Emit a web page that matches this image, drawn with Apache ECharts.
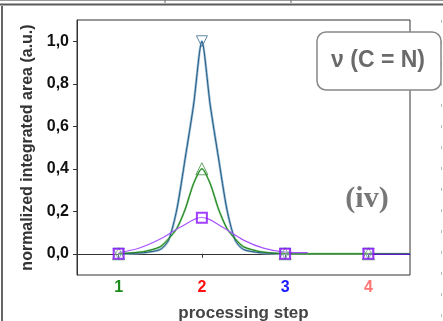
<!DOCTYPE html>
<html><head><meta charset="utf-8">
<script src="https://cdn.jsdelivr.net/npm/echarts@6/dist/echarts.min.js"></script>
<style>html,body{margin:0;padding:0;background:#fff;}#c{width:443px;height:321px;}</style>
</head><body><div id="c"></div>
<script>
// step ticks
const stepTicks = [1, 2, 3, 4];
const yTicks = [0, 0.2, 0.4, 0.6, 0.8, 1.0];
// fitted curve (blue)
const blueX = [1, 1.3, 1.5, 1.6, 1.7, 1.8, 1.9, 2.0, 2.1, 2.2, 2.3, 2.4, 2.5, 2.7, 3.0];
const blueY = [0, 0.005, 0.02, 0.064, 0.21, 0.45, 0.70, 1.0, 0.70, 0.45, 0.21, 0.064, 0.02, 0.005, 0];
// fitted curve (green)
const greenX = [1, 1.3, 1.5, 1.6, 1.7, 1.8, 1.9, 2.0, 2.1, 2.2, 2.3, 2.4, 2.5, 2.7, 3.0, 4.0, 4.5];
const greenY = [0, 0.01, 0.033, 0.07, 0.12, 0.21, 0.33, 0.40, 0.33, 0.21, 0.12, 0.07, 0.033, 0.01, 0, 0, 0];
// fitted curve (purple)
const purpleX = [1, 1.25, 1.5, 1.75, 2.0, 2.25, 2.5, 2.75, 3.0, 3.27];
const purpleY = [0.005, 0.027, 0.069, 0.127, 0.171, 0.125, 0.064, 0.025, 0.008, 0.005];
const purpleTailX = [4.0, 4.5];
const purpleTailY = [-0.002, -0.002];
// measured points
const blueMarks = [0, 1.0, 0, 0];
const greenMarks = [0, 0.4, 0, 0];
const purpleMarks = [0, 0.17, 0, 0];

const zip = (xs, ys) => xs.map((x, i) => [x, ys[i]]);
const chart = echarts.init(document.getElementById('c'));
const F = 'Liberation Sans, Arial, sans-serif';
chart.setOption({
  animation: false,
  grid: { left: 77, right: 33, top: 20, bottom: 46, show: true, borderColor: '#333', borderWidth: 1, backgroundColor: 'transparent', containLabel: false, outerBoundsMode: 'none' },
  xAxis: {
    type: 'value', min: 0.5, max: 4.5,
    name: 'processing step', nameLocation: 'middle', nameGap: 30,
    nameTextStyle: { fontFamily: F, fontWeight: 'bold', fontSize: 17, color: '#444' },
    axisLine: { show: true, lineStyle: { color: '#333', width: 1 } },
    axisTick: { show: true, length: 4, inside: false, customValues: stepTicks, lineStyle: { color: '#333' } },
    axisLabel: {
      customValues: stepTicks, margin: 5,
      formatter: v => '{s' + v + '|' + v + '}',
      rich: {
        s1: { color: '#1a8a1a', fontWeight: 'bold', fontSize: 16, fontFamily: F },
        s2: { color: '#ff1010', fontWeight: 'bold', fontSize: 16, fontFamily: F },
        s3: { color: '#1a1aff', fontWeight: 'bold', fontSize: 16, fontFamily: F },
        s4: { color: '#ff7575', fontWeight: 'bold', fontSize: 16, fontFamily: F }
      }
    },
    splitLine: { show: false }
  },
  yAxis: {
    type: 'value', min: -0.1, max: 1.1,
    name: 'normalized integrated area (a.u.)', nameLocation: 'middle', nameGap: 39, nameRotate: 90,
    nameTextStyle: { fontFamily: F, fontWeight: 'bold', fontSize: 16, color: '#333' },
    axisLine: { show: true, lineStyle: { color: '#333', width: 1 } },
    axisTick: { show: true, length: 4, customValues: yTicks, lineStyle: { color: '#333' } },
    axisLabel: {
      customValues: yTicks, margin: 8,
      formatter: v => v.toFixed(1).replace('.', ','),
      fontFamily: F, fontWeight: 'bold', fontSize: 16, color: '#111'
    },
    splitLine: { show: false }
  },
  series: [
    { type: 'line', data: zip(blueX, blueY), smooth: 0.25, showSymbol: false, lineStyle: { color: '#9dbdd4', width: 2.5 }, z: 2 },
    { type: 'line', data: zip(blueX, blueY), smooth: 0.25, showSymbol: false, lineStyle: { color: '#1f5a85', width: 1 }, z: 3 },
    { type: 'line', data: zip(greenX, greenY), smooth: 0.25, showSymbol: false, lineStyle: { color: '#86c986', width: 2 }, z: 2 },
    { type: 'line', data: zip(greenX, greenY), smooth: 0.25, showSymbol: false, lineStyle: { color: '#1f7f1f', width: 1 }, z: 3 },
    { type: 'line', data: zip(purpleX, purpleY), smooth: 0.35, showSymbol: false, lineStyle: { color: '#a855ff', width: 1.2 }, z: 4 },
    { type: 'line', data: zip(purpleTailX, purpleTailY), showSymbol: false, lineStyle: { color: '#5a20c8', width: 1.5 }, z: 4 },
    { type: 'scatter', data: zip(stepTicks, blueMarks), symbol: 'triangle', symbolRotate: 180, symbolSize: 11,
      itemStyle: { color: 'rgba(255,255,255,0)', borderColor: '#3a6d92', borderWidth: 1 }, z: 5 },
    { type: 'scatter', data: zip(stepTicks, greenMarks), symbol: 'triangle', symbolSize: 12,
      itemStyle: { color: 'rgba(255,255,255,0)', borderColor: '#3f8f3f', borderWidth: 1 }, z: 5 },
    { type: 'scatter', data: zip(stepTicks, purpleMarks), symbol: 'rect', symbolSize: 10,
      itemStyle: { color: 'rgba(255,255,255,0.3)', borderColor: '#8a10ff', borderWidth: 2 }, z: 6 }
  ],
  graphic: [
    { type: 'rect', shape: { x: 0, y: 3.5, width: 443, height: 2 }, style: { fill: '#5a5a5a' }, silent: true },
    { type: 'rect', shape: { x: 0, y: 0, width: 443, height: 1 }, style: { fill: '#999' }, silent: true },
    { type: 'line', shape: { x1: 165, y1: 0, x2: 165, y2: 3 }, style: { stroke: '#666', lineWidth: 1 }, silent: true },
    { type: 'line', shape: { x1: 291, y1: 0, x2: 291, y2: 3 }, style: { stroke: '#666', lineWidth: 1 }, silent: true },
    { type: 'rect', shape: { x: 1, y: 6, width: 2, height: 315 }, style: { fill: '#666' }, silent: true },
    { type: 'line', shape: { x1: 441.5, y1: 20, x2: 441.5, y2: 321 }, style: { stroke: '#bbb', lineWidth: 1, lineDash: [3, 18] }, silent: true },
    { type: 'rect', shape: { x: 317, y: 32, width: 124, height: 58, r: 9 }, style: { fill: '#fff', stroke: '#888', lineWidth: 1.5 }, z: 10 },
    { type: 'text', x: 378, y: 61, z: 11, style: { text: 'ν (C = N)', fill: '#6a6a6a', font: 'bold 23px Liberation Sans, Arial, sans-serif', align: 'center', verticalAlign: 'middle' } },
    { type: 'text', x: 367, y: 199, z: 11, style: { text: '(iv)', fill: '#777', font: 'bold 30px Liberation Serif, Times New Roman, serif', align: 'center', verticalAlign: 'middle' } }
  ]
});
</script></body></html>
